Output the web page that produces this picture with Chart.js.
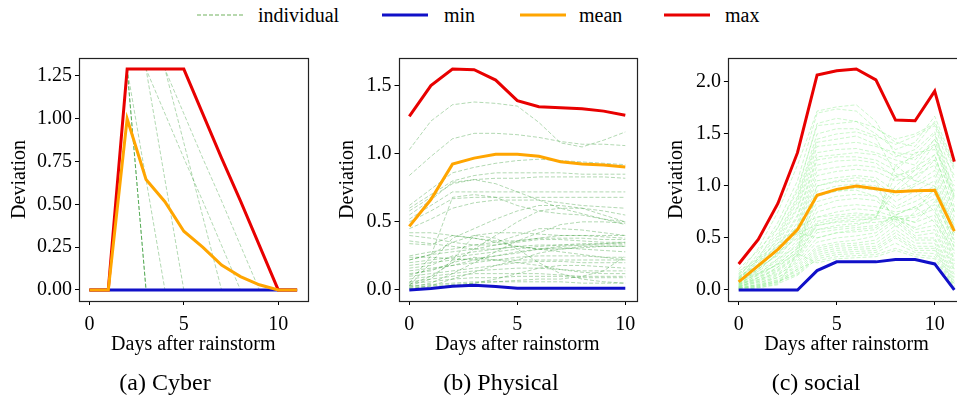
<!DOCTYPE html>
<html>
<head>
<meta charset="utf-8">
<script src="https://cdn.jsdelivr.net/npm/chart.js@4.4.1/dist/chart.umd.min.js"></script>
<style>
  html, body { margin:0; padding:0; width:957px; height:403px; overflow:hidden; background:#fff; }
  body { position:relative; font-family:'Liberation Serif','Times New Roman',serif; color:#000; }
  canvas { position:absolute; }
  .lg { position:absolute; top:15px; transform:translateY(-50%); font-size:20px; line-height:1; white-space:nowrap; }
  .lgline { position:absolute; top:15px; }
  .cap { position:absolute; top:382px; transform:translate(-50%,-50%); font-size:24px; line-height:1; white-space:nowrap; }
</style>
</head>
<body>
<svg class="lgline" style="left:197px;top:9px" width="48" height="12"><line x1="0" y1="6" x2="46" y2="6" stroke="rgba(80,160,60,0.55)" stroke-width="1.3" stroke-dasharray="4,2"/></svg>
<div class="lg" style="left:258px">individual</div>
<svg class="lgline" style="left:382px;top:9px" width="48" height="12"><line x1="0" y1="6" x2="46" y2="6" stroke="#1010c8" stroke-width="3"/></svg>
<div class="lg" style="left:444px">min</div>
<svg class="lgline" style="left:520px;top:9px" width="48" height="12"><line x1="0" y1="6" x2="46" y2="6" stroke="#ffa500" stroke-width="3"/></svg>
<div class="lg" style="left:579px">mean</div>
<svg class="lgline" style="left:664px;top:9px" width="48" height="12"><line x1="0" y1="6" x2="46" y2="6" stroke="#e80000" stroke-width="3"/></svg>
<div class="lg" style="left:725px">max</div>

<canvas id="c1" width="330" height="330" style="left:0px;top:40px;width:330px;height:330px"></canvas>
<canvas id="c2" width="330" height="330" style="left:320px;top:40px;width:330px;height:330px"></canvas>
<canvas id="c3" width="340" height="330" style="left:640px;top:40px;width:340px;height:330px"></canvas>

<div class="cap" style="left:165px">(a) Cyber</div>
<div class="cap" style="left:501px">(b) Physical</div>
<div class="cap" style="left:816px">(c) social</div>

<script>
// ---------------- DATA ----------------
const xTickLabels = [0, 5, 10];

// (a) Cyber
const cyberDays = [0,1,2,3,4,5,6,7,8,9,10,11];
const cyberMin  = [0,0,0,0,0,0,0,0,0,0,0,0];
const cyberMean = [0,0,1.00,0.645,0.515,0.343,0.25,0.145,0.078,0.03,0,0];
const cyberMax  = [0,0,1.29,1.29,1.29,1.29,1.03,0.77,0.52,0.26,0,0];
const cyberYTicks = [0, 0.25, 0.5, 0.75, 1.0, 1.25];
const cyberIndividuals = [
  [0,0,0,0,0,0,0,0,0,0,0,0],
  [0,0,0,0,0,0,0,0,0,0,0,0],
  [0,0,1.29,0,0,0,0,0,0,0,0,0],
  [0,0,1.29,0,0,0,0,0,0,0,0,0],
  [0,0,1.29,0,0,0,0,0,0,0,0,0],
  [0,0,1.29,0.645,0,0,0,0,0,0,0,0],
  [0,0,1.29,1.29,0.645,0,0,0,0,0,0,0],
  [0,0,1.29,1.29,1.29,0.86,0.43,0,0,0,0,0],
  [0,0,1.29,1.29,1.03,0.77,0.52,0.26,0,0,0,0],
  [0,0,1.29,1.29,1.29,1.03,0.77,0.52,0.26,0,0,0],
  [0,0,1.29,1.29,1.29,1.29,1.03,0.77,0.52,0.26,0,0]
];

// (b) Physical
const physicalDays = [0,1,2,3,4,5,6,7,8,9,10];
const physicalMin  = [0,0.01,0.027,0.035,0.025,0.012,0.012,0.012,0.012,0.012,0.012];
const physicalMean = [0.467,0.664,0.924,0.968,0.996,0.996,0.981,0.942,0.924,0.917,0.902];
const physicalMax  = [1.274,1.50,1.622,1.617,1.541,1.39,1.345,1.337,1.33,1.313,1.283];
const physicalYTicks = [0, 0.5, 1.0, 1.5];
const physicalIndividuals = [
  [1.03,1.24,1.36,1.38,1.37,1.35,1.23,1.08,1.05,1.10,1.16],
  [0.84,0.98,1.11,1.15,1.15,1.14,1.12,1.09,1.07,1.07,1.06],
  [0.62,0.74,0.86,0.90,0.93,0.95,0.96,0.95,0.94,0.93,0.92],
  [0.60,0.70,0.80,0.84,0.86,0.86,0.86,0.86,0.85,0.85,0.85],
  [0.58,0.68,0.78,0.81,0.82,0.82,0.83,0.83,0.83,0.83,0.82],
  [0.55,0.66,0.79,0.81,0.78,0.72,0.66,0.60,0.56,0.52,0.48],
  [0.52,0.62,0.72,0.72,0.72,0.72,0.72,0.72,0.72,0.72,0.72],
  [0.50,0.58,0.67,0.68,0.68,0.68,0.68,0.68,0.68,0.68,0.68],
  [0.45,0.52,0.60,0.64,0.66,0.66,0.66,0.64,0.62,0.61,0.60],
  [0.03,0.20,0.38,0.45,0.52,0.58,0.62,0.62,0.60,0.55,0.50],
  [0.05,0.25,0.68,0.70,0.68,0.62,0.58,0.56,0.55,0.52,0.50],
  [0.42,0.42,0.40,0.38,0.36,0.36,0.38,0.40,0.40,0.39,0.38],
  [0.40,0.38,0.35,0.33,0.33,0.35,0.37,0.37,0.36,0.35,0.35],
  [0.36,0.34,0.32,0.30,0.30,0.32,0.33,0.33,0.33,0.33,0.33],
  [0.34,0.33,0.40,0.38,0.35,0.32,0.30,0.30,0.31,0.32,0.32],
  [0.25,0.28,0.30,0.33,0.35,0.40,0.45,0.45,0.44,0.42,0.40],
  [0.22,0.26,0.28,0.30,0.33,0.36,0.38,0.38,0.38,0.37,0.37],
  [0.20,0.22,0.24,0.26,0.28,0.30,0.32,0.33,0.34,0.34,0.34],
  [0.18,0.20,0.22,0.23,0.25,0.27,0.30,0.31,0.30,0.29,0.28],
  [0.16,0.18,0.25,0.28,0.30,0.32,0.30,0.28,0.26,0.24,0.22],
  [0.14,0.16,0.18,0.20,0.22,0.24,0.25,0.25,0.25,0.24,0.24],
  [0.12,0.14,0.20,0.24,0.22,0.20,0.18,0.15,0.13,0.12,0.12],
  [0.10,0.12,0.14,0.16,0.18,0.20,0.21,0.21,0.20,0.20,0.20],
  [0.08,0.10,0.12,0.14,0.15,0.16,0.16,0.15,0.14,0.14,0.14],
  [0.06,0.08,0.10,0.12,0.12,0.12,0.12,0.11,0.10,0.10,0.10],
  [0.05,0.06,0.08,0.09,0.09,0.10,0.10,0.10,0.09,0.09,0.09],
  [0.03,0.04,0.05,0.06,0.06,0.06,0.06,0.06,0.05,0.05,0.05],
  [0.02,0.03,0.04,0.05,0.06,0.07,0.08,0.08,0.10,0.14,0.25],
  [0.04,0.10,0.20,0.30,0.40,0.50,0.58,0.60,0.60,0.58,0.55],
  [0.02,0.05,0.12,0.20,0.28,0.36,0.42,0.48,0.50,0.50,0.49],
  [0.01,0.03,0.08,0.13,0.18,0.22,0.27,0.30,0.32,0.32,0.32],
  [0.03,0.08,0.22,0.40,0.38,0.30,0.20,0.12,0.08,0.06,0.05],
  [0.22,0.26,0.35,0.40,0.42,0.42,0.41,0.40,0.40,0.40,0.40],
  [0.11,0.15,0.18,0.22,0.25,0.28,0.30,0.32,0.33,0.34,0.35],
  [0.24,0.24,0.23,0.22,0.22,0.22,0.22,0.22,0.22,0.22,0.22],
  [0.01,0.02,0.03,0.05,0.08,0.12,0.16,0.18,0.18,0.17,0.16]
];

// (c) social
const socialDays = [0,1,2,3,4,5,6,7,8,9,10,11];
const socialMin  = [0,0,0,0,0.186,0.27,0.27,0.27,0.292,0.292,0.25,0];
const socialMean = [0.077,0.234,0.39,0.58,0.91,0.967,1.0,0.974,0.945,0.955,0.958,0.566];
const socialMax  = [0.25,0.485,0.832,1.32,2.067,2.108,2.124,2.02,1.633,1.626,1.912,1.234];
const socialYTicks = [0, 0.5, 1.0, 1.5, 2.0];
const socialIndividuals = [
  [0.15,0.40,0.75,1.20,1.72,1.76,1.78,1.62,1.30,1.25,1.45,1.10],
  [0.12,0.35,0.65,1.05,1.70,1.74,1.72,1.55,1.45,1.50,1.60,1.15],
  [0.10,0.30,0.60,0.95,1.60,1.65,1.62,1.50,1.35,1.42,1.67,1.20],
  [0.14,0.32,0.55,0.90,1.50,1.55,1.55,1.48,1.40,1.48,1.58,1.05],
  [0.08,0.25,0.50,0.85,1.42,1.45,1.48,1.40,1.28,1.35,1.52,0.95],
  [0.10,0.28,0.48,0.80,1.38,1.40,1.42,1.38,1.32,1.30,1.50,0.90],
  [0.06,0.22,0.45,0.78,1.32,1.35,1.36,1.32,1.25,1.20,1.45,0.85],
  [0.12,0.26,0.42,0.72,1.28,1.30,1.32,1.30,1.20,1.28,1.40,0.80],
  [0.05,0.20,0.40,0.70,1.25,1.28,1.28,1.25,1.15,1.32,1.35,1.00],
  [0.09,0.22,0.38,0.65,1.20,1.24,1.25,1.22,1.08,1.18,1.30,0.75],
  [0.04,0.18,0.36,0.62,1.15,1.18,1.20,1.18,1.10,1.15,1.25,0.70],
  [0.11,0.24,0.40,0.60,1.10,1.14,1.16,1.14,1.05,1.10,1.20,0.65],
  [0.07,0.20,0.34,0.58,1.05,1.08,1.10,1.08,0.95,1.02,1.15,0.60],
  [0.03,0.15,0.30,0.55,1.00,1.04,1.05,1.04,0.90,1.00,1.10,0.55],
  [0.10,0.22,0.33,0.52,0.95,1.00,1.02,1.00,0.85,0.95,1.05,0.50],
  [0.06,0.16,0.28,0.48,0.90,0.95,0.98,0.96,0.80,0.90,1.00,0.58],
  [0.02,0.12,0.26,0.45,0.85,0.90,0.92,0.90,0.78,0.85,0.95,0.45],
  [0.08,0.18,0.30,0.42,0.80,0.86,0.88,0.86,0.72,0.80,0.92,0.40],
  [0.05,0.14,0.25,0.40,0.75,0.80,0.82,0.80,0.75,0.78,0.88,0.52],
  [0.03,0.10,0.22,0.38,0.70,0.75,0.78,0.76,0.70,0.72,0.82,0.35],
  [0.09,0.16,0.24,0.36,0.66,0.70,0.72,0.72,0.68,0.70,0.78,0.30],
  [0.04,0.12,0.20,0.34,0.62,0.66,0.68,0.68,0.70,0.65,0.72,0.28],
  [0.02,0.08,0.18,0.32,0.58,0.62,0.64,0.65,0.68,0.60,0.68,0.25],
  [0.06,0.10,0.16,0.30,0.55,0.58,0.60,0.62,0.72,0.58,0.62,0.22],
  [0.01,0.06,0.14,0.28,0.50,0.55,0.56,0.58,0.70,0.55,0.58,0.20],
  [0.04,0.08,0.15,0.26,0.46,0.50,0.52,0.55,0.68,0.52,0.55,0.18],
  [0.02,0.05,0.12,0.24,0.42,0.46,0.48,0.52,0.66,0.50,0.50,0.15],
  [0.03,0.07,0.12,0.22,0.40,0.44,0.45,0.48,0.62,0.48,0.48,0.12],
  [0.01,0.04,0.10,0.20,0.38,0.42,0.43,0.45,0.58,0.45,0.45,0.10],
  [0.02,0.05,0.09,0.18,0.36,0.40,0.41,0.42,0.55,0.42,0.42,0.08],
  [0.00,0.03,0.08,0.16,0.34,0.38,0.39,0.40,0.52,0.40,0.40,0.06],
  [0.01,0.04,0.08,0.15,0.32,0.36,0.37,0.38,0.50,0.38,0.38,0.05],
  [0.00,0.02,0.06,0.14,0.30,0.34,0.35,0.36,0.45,0.36,0.35,0.04],
  [0.02,0.03,0.07,0.20,0.28,0.32,0.33,0.34,0.40,0.34,0.32,0.03],
  [0.00,0.02,0.05,0.35,0.26,0.30,0.31,0.32,0.38,0.32,0.30,0.02],
  [0.18,0.30,0.45,0.60,0.70,0.72,0.74,0.72,1.00,1.15,1.40,0.88],
  [0.16,0.28,0.42,0.55,0.62,0.65,0.66,0.70,0.95,1.10,1.30,0.75],
  [0.13,0.24,0.36,0.50,0.58,0.60,0.62,0.68,1.20,1.05,1.00,0.62],
  [0.07,0.15,0.25,0.40,1.00,1.05,1.08,1.05,0.60,0.75,0.98,0.55],
  [0.05,0.12,0.22,0.36,0.92,0.95,0.96,0.90,0.70,0.65,0.85,0.48],
  [0.20,0.38,0.60,0.98,1.58,1.60,1.62,1.56,1.42,1.38,1.62,1.18],
  [0.11,0.30,0.52,0.88,1.45,1.50,1.52,1.46,1.12,1.05,1.25,0.92],
  [0.03,0.09,0.19,0.33,0.64,0.68,0.70,0.70,1.10,0.95,0.75,0.42],
  [0.08,0.20,0.35,0.55,0.50,0.55,0.58,0.60,0.72,0.80,0.65,0.38]
];

// ---------------- STYLE ----------------
const FONT = "'Liberation Serif','Times New Roman',serif";
Chart.defaults.font.family = FONT;
Chart.defaults.color = '#000';
const MIN_C = '#1010c8', MEAN_C = '#ffa500', MAX_C = '#e80000';

const framePlugin = {
  id: 'frame',
  afterDatasetsDraw(chart) {
    const a = chart.chartArea, ctx = chart.ctx;
    ctx.save();
    ctx.strokeStyle = '#222';
    ctx.lineWidth = 1.2;
    ctx.strokeRect(Math.round(a.left) + 0.5, Math.round(a.top) + 0.5,
                   Math.round(a.right - a.left), Math.round(a.bottom - a.top));
    ctx.restore();
  }
};

function pts(days, vals) { return days.map((d, i) => ({ x: d, y: vals[i] })); }

function makePanel(id, cfg) {
  const datasets = [];
  datasets.push({ data: pts(cfg.days, cfg.mean), borderColor: MEAN_C, borderWidth: 3, order: 0 });
  datasets.push({ data: pts(cfg.days, cfg.max), borderColor: MAX_C, borderWidth: 3, order: 1 });
  datasets.push({ data: pts(cfg.days, cfg.min), borderColor: MIN_C, borderWidth: 3, order: 2 });
  cfg.ind.forEach((arr, k) => datasets.push({
    data: pts(cfg.days, arr), borderColor: cfg.indColor, borderWidth: 1,
    borderDash: [4, 2], order: 10 + k
  }));
  datasets.forEach(d => { d.pointRadius = 0; d.tension = 0; d.fill = false; });

  const tickFont = { family: FONT, size: 20 };
  new Chart(document.getElementById(id), {
    type: 'line',
    data: { datasets },
    plugins: [framePlugin],
    options: {
      responsive: false, animation: false, devicePixelRatio: 1,
      layout: { padding: { left: 0, top: cfg.padTop, right: cfg.padRight, bottom: 0 } },
      plugins: { legend: { display: false }, tooltip: { enabled: false } },
      scales: {
        x: {
          type: 'linear', min: cfg.xmin, max: cfg.xmax,
          afterBuildTicks: s => { s.ticks = xTickLabels.map(v => ({ value: v })); },
          afterFit: s => { s.height = cfg.xAxisH; },
          ticks: { font: tickFont, color: '#000', padding: 8, autoSkip: false, maxRotation: 0,
                   callback: v => String(v) },
          grid: { display: true, drawOnChartArea: false, drawTicks: true, tickLength: 4,
                  tickColor: '#000', tickWidth: 1 },
          border: { display: false },
          title: { display: true, text: 'Days after rainstorm', font: { family: FONT, size: 20 },
                   color: '#000', padding: { top: 0, bottom: 13 } }
        },
        y: {
          type: 'linear', min: cfg.ymin, max: cfg.ymax,
          afterBuildTicks: s => { s.ticks = cfg.yTicks.map(v => ({ value: v })); },
          afterFit: s => { s.width = cfg.yAxisW; },
          ticks: { font: tickFont, color: '#000', padding: 3, autoSkip: false,
                   callback: v => Number(v).toFixed(cfg.dec) },
          grid: { display: true, drawOnChartArea: false, drawTicks: true, tickLength: 4,
                  tickColor: '#000', tickWidth: 1 },
          border: { display: false },
          title: { display: true, text: 'Deviation', font: { family: FONT, size: 20 },
                   color: '#000', padding: { top: cfg.yTitlePad, bottom: 0 } }
        }
      }
    }
  });
}

makePanel('c1', {
  days: cyberDays, min: cyberMin, mean: cyberMean, max: cyberMax, ind: cyberIndividuals,
  indColor: 'rgba(0,128,0,0.3)', yTicks: cyberYTicks, dec: 2,
  xmin: -0.55, xmax: 11.55, ymin: -0.0645, ymax: 1.3545,
  padTop: 18, padRight: 22.5, yAxisW: 79, xAxisH: 69, yTitlePad: 7.5
});
makePanel('c2', {
  days: physicalDays, min: physicalMin, mean: physicalMean, max: physicalMax, ind: physicalIndividuals,
  indColor: 'rgba(0,128,0,0.3)', yTicks: physicalYTicks, dec: 1,
  xmin: -0.5, xmax: 10.5, ymin: -0.0811, ymax: 1.7031,
  padTop: 18, padRight: 13.9, yAxisW: 78.5, xAxisH: 69, yTitlePad: 16
});
makePanel('c3', {
  days: socialDays, min: socialMin, mean: socialMean, max: socialMax, ind: socialIndividuals,
  indColor: 'rgba(144,238,144,0.45)', yTicks: socialYTicks, dec: 1,
  xmin: -0.55, xmax: 11.55, ymin: -0.1062, ymax: 2.2302,
  padTop: 18, padRight: 14.9, yAxisW: 87.9, xAxisH: 69, yTitlePad: 25
});
</script>
</body>
</html>
